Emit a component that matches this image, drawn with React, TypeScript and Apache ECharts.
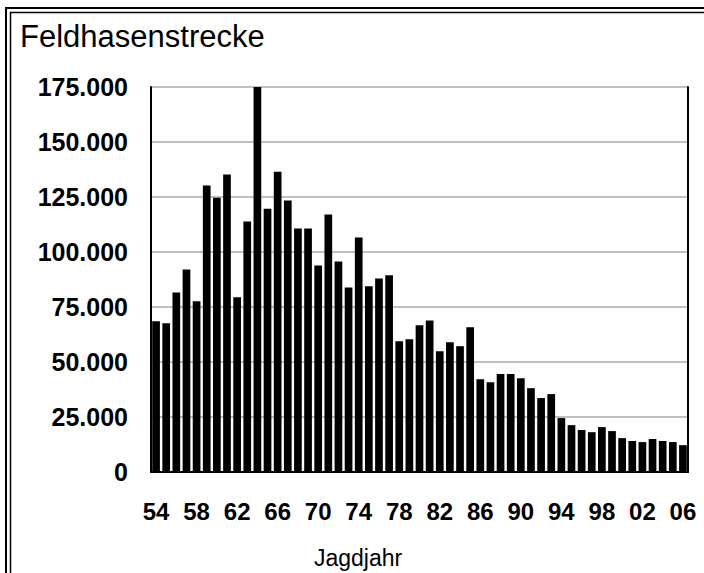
import React, { useEffect, useRef } from "react";
import * as echarts from "echarts";

const years: string[] = [
  "54", "55", "56", "57", "58", "59", "60", "61", "62", "63",
  "64", "65", "66", "67", "68", "69", "70", "71", "72", "73",
  "74", "75", "76", "77", "78", "79", "80", "81", "82", "83",
  "84", "85", "86", "87", "88", "89", "90", "91", "92", "93",
  "94", "95", "96", "97", "98", "99", "00", "01", "02", "03",
  "04", "05", "06",
];

const harvest: number[] = [
  68500, 67600, 81600, 92100, 77600, 130200, 124700, 135200, 79400, 113900,
  175000, 119700, 136500, 123400, 110700, 110700, 93900, 117000, 95700, 83900,
  106600, 84400, 88000, 89400, 59400, 60300, 66700, 68900, 54900, 59000,
  57200, 65800, 42200, 40800, 44500, 44500, 42600, 38100, 33600, 35400,
  24500, 21300, 19100, 18100, 20400, 18600, 15400, 14100, 13600, 15000,
  14100, 13600, 12200,
];

const yMax = 175000;
const yStep = 25000;
const titleText = "Feldhasenstrecke";
const xAxisTitle = "Jagdjahr";

const fontFamily = "'Liberation Sans', Arial, sans-serif";

function fmt(v: number): string {
  if (v === 0) return "0";
  const s = String(Math.round(v));
  return s.replace(/\B(?=(\d{3})+(?!\d))/g, ".");
}

export default function App() {
  const ref = useRef<HTMLDivElement>(null);
  useEffect(() => {
    if (!ref.current) return;
    const chart = echarts.init(ref.current, undefined, { renderer: "svg" });
    chart.setOption({
      animation: false,
      backgroundColor: "#ffffff",
      grid: { left: 151, right: 16, top: 87, bottom: 101, containLabel: false },
      xAxis: {
        type: "category",
        data: years,
        axisLine: { show: true, lineStyle: { color: "#000", width: 2 } },
        axisTick: { show: false },
        axisLabel: {
          interval: 3,
          margin: 27,
          color: "#000",
          fontFamily,
          fontWeight: "bold",
          fontSize: 24,
          lineHeight: 24,
        },
      },
      yAxis: [
        {
          type: "value",
          min: 0,
          max: yMax,
          interval: yStep,
          axisLine: { show: true, lineStyle: { color: "#000", width: 2 } },
          axisTick: { show: false },
          splitLine: { show: true, lineStyle: { color: "#c0c0c0", width: 2 } },
          axisLabel: {
            margin: 23,
            color: "#000",
            fontFamily,
            fontWeight: "bold",
            fontSize: 25,
            formatter: (v: number) => fmt(v),
          },
        },
        {
          type: "value",
          position: "right",
          min: 0,
          max: yMax,
          interval: yStep,
          axisLine: { show: true, lineStyle: { color: "#000", width: 2 } },
          axisTick: { show: false },
          splitLine: { show: false },
          axisLabel: { show: false },
        },
      ],
      series: [
        {
          type: "bar",
          data: harvest,
          yAxisIndex: 0,
          barCategoryGap: "24%",
          itemStyle: { color: "#000" },
        },
      ],
      graphic: [
        {
          type: "rect",
          shape: { x: 6, y: 8, width: 760, height: 640 },
          style: { fill: "none", stroke: "#000", lineWidth: 2 },
          silent: true,
        },
        {
          type: "rect",
          shape: { x: 10.5, y: 12.5, width: 760, height: 640 },
          style: { fill: "none", stroke: "#000", lineWidth: 1.5 },
          silent: true,
        },
        {
          type: "text",
          x: 20,
          y: 36,
          style: {
            text: titleText,
            fill: "#000",
            font: `normal 31px ${fontFamily}`,
            textAlign: "left",
            textVerticalAlign: "middle",
          },
        },
        {
          type: "text",
          x: 358,
          y: 558,
          style: {
            text: xAxisTitle,
            fill: "#000",
            font: `normal 23px ${fontFamily}`,
            textAlign: "center",
            textVerticalAlign: "middle",
          },
        },
      ],
    });
    return () => chart.dispose();
  }, []);
  return (
    <div
      ref={ref}
      style={{ position: "fixed", left: 0, top: 0, width: 704, height: 573 }}
    />
  );
}
